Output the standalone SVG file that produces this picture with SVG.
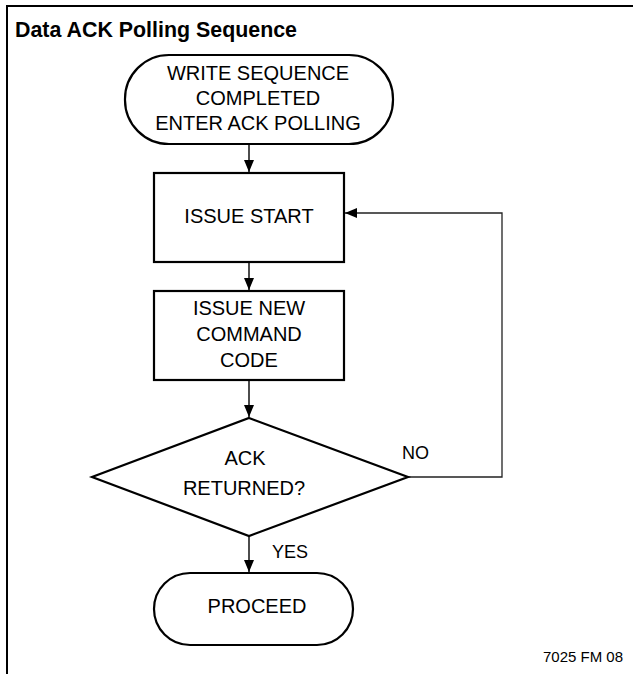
<svg xmlns="http://www.w3.org/2000/svg" width="633" height="674" viewBox="0 0 633 674">
<style>
.frame{stroke:#000;stroke-width:2;fill:none}
.node{fill:#fff;stroke:#000;stroke-width:2.2}
.t{font-family:"Liberation Sans",Arial,sans-serif;font-size:20px;fill:#000;text-anchor:middle}
.title{font-family:"Liberation Sans",Arial,sans-serif;font-size:22px;font-weight:bold;fill:#000}
.lbl{font-family:"Liberation Sans",Arial,sans-serif;font-size:18px;fill:#000}
.fig{font-family:"Liberation Sans",Arial,sans-serif;font-size:15px;fill:#000;text-anchor:end}
.edge{stroke:#000;stroke-width:1.4;fill:none}
.loop{stroke:#222;stroke-width:1.3;fill:none}
</style>
<defs>
<marker id="ah" markerWidth="12" markerHeight="10" refX="12" refY="5" orient="auto" markerUnits="userSpaceOnUse">
<path d="M0,0 L12,5 L0,10 Z" fill="#000"/>
</marker>
</defs>
<rect width="633" height="674" fill="#fff"/>
<path class="frame" d="M7,674 V6 H633"/>
<text class="title" x="15" y="37" textLength="282" lengthAdjust="spacingAndGlyphs">Data ACK Polling Sequence</text>

<g id="connectors">
<line class="edge" x1="249" y1="144" x2="249" y2="172" marker-end="url(#ah)"/>
<line class="edge" x1="249" y1="262" x2="249" y2="290" marker-end="url(#ah)"/>
<line class="edge" x1="249" y1="380" x2="249" y2="417" marker-end="url(#ah)"/>
<line class="edge" x1="249" y1="536" x2="249" y2="572" marker-end="url(#ah)"/>
<path class="loop" d="M408,477 H502 V213 H345" marker-end="url(#ah)"/>
<text class="lbl" x="402" y="459">NO</text>
<text class="lbl" x="272" y="558">YES</text>
</g>

<g id="start">
<rect class="node" x="125" y="55" width="268" height="89" rx="44" ry="44"/>
<text class="t" x="258" y="80">WRITE SEQUENCE</text>
<text class="t" x="258" y="105">COMPLETED</text>
<text class="t" x="258" y="130">ENTER ACK POLLING</text>
</g>

<g id="issue-start">
<rect class="node" x="154" y="173" width="190" height="89"/>
<text class="t" x="249" y="223">ISSUE START</text>
</g>

<g id="issue-command">
<rect class="node" x="154" y="291" width="190" height="89"/>
<text class="t" x="249" y="315">ISSUE NEW</text>
<text class="t" x="249" y="341">COMMAND</text>
<text class="t" x="249" y="367">CODE</text>
</g>

<g id="ack-returned">
<polygon class="node" points="249,418 408,477 249,536 92,477"/>
<text class="t" x="245" y="465">ACK</text>
<text class="t" x="244" y="495">RETURNED?</text>
</g>

<g id="proceed">
<rect class="node" x="154" y="573" width="199" height="72" rx="36" ry="36"/>
<text class="t" x="257" y="613">PROCEED</text>
</g>

<text class="fig" x="623" y="662">7025 FM 08</text>
</svg>
